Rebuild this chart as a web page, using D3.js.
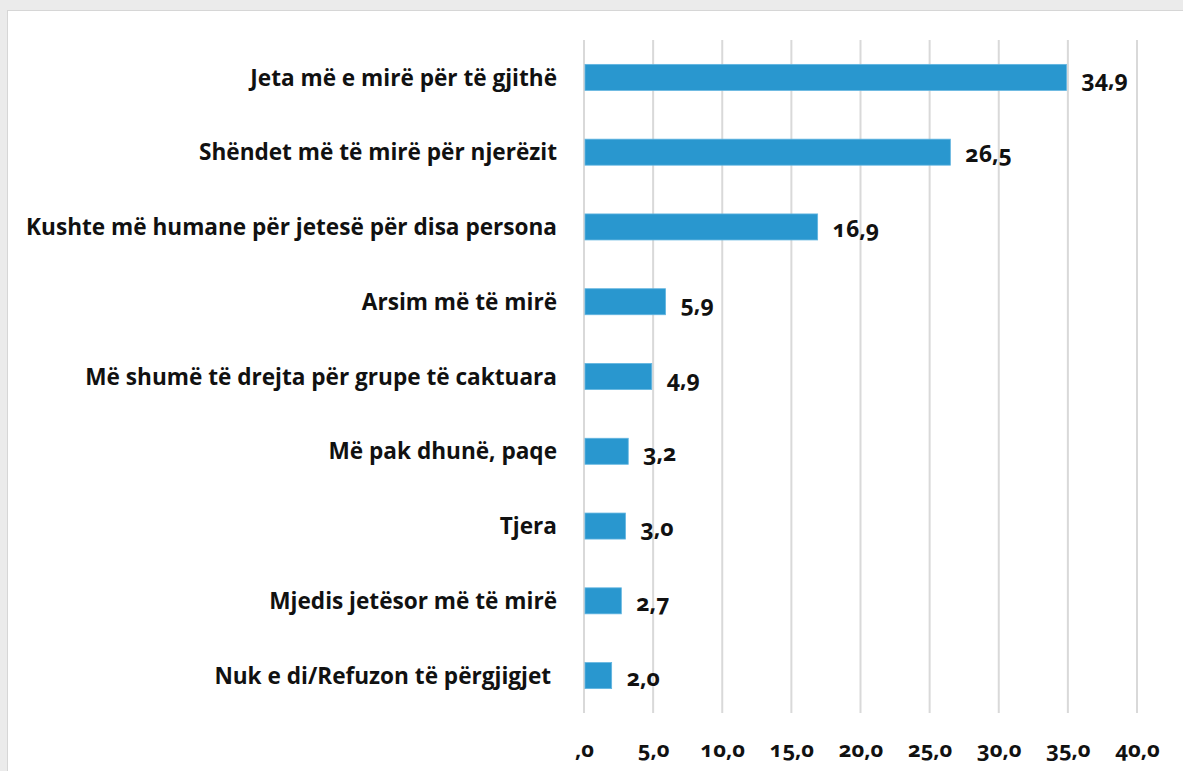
<!DOCTYPE html>
<html><head><meta charset="utf-8">
<script src="https://cdn.jsdelivr.net/npm/d3@7"></script>
<style>
html,body{margin:0;padding:0;background:#ebebeb;}
svg{display:block;}
</style></head>
<body>
<script>
const categories = [
  "Jeta më e mirë për të gjithë",
  "Shëndet më të mirë për njerëzit",
  "Kushte më humane për jetesë për disa persona",
  "Arsim më të mirë",
  "Më shumë të drejta për grupe të caktuara",
  "Më pak dhunë, paqe",
  "Tjera",
  "Mjedis jetësor më të mirë",
  "Nuk e di/Refuzon të përgjigjet "
];
const values = [34.9, 26.5, 16.9, 5.9, 4.9, 3.2, 3.0, 2.7, 2.0];
const tickValues = [0, 5, 10, 15, 20, 25, 30, 35, 40];

const W = 1183, H = 771;
const fmt = v => v === 0 ? ",0" : v.toFixed(1).replace(".", ",");
const FONT = "'Open Sans', 'DejaVu Sans', sans-serif";

const svg = d3.select("body").append("svg").attr("width", W).attr("height", H);
// panel
svg.append("rect").attr("x", 7.5).attr("y", 10.5).attr("width", W).attr("height", H)
  .attr("fill", "#fff").attr("stroke", "#d6d6d6").attr("stroke-width", 1);

const x = d3.scaleLinear().domain([0, 40]).range([584, 1137]);
const y = d3.scaleBand().domain(categories).range([40, 713]).paddingInner(0.652).paddingOuter(0.326);

// gridlines
svg.append("g").selectAll("line").data(tickValues).join("line")
  .attr("x1", d => x(d)).attr("x2", d => x(d))
  .attr("y1", 40).attr("y2", 713)
  .attr("stroke", "#d9d9d9").attr("stroke-width", 2);

// bars
svg.append("g").selectAll("rect").data(values).join("rect")
  .attr("x", x(0) + 1)
  .attr("y", (d, i) => y(categories[i]))
  .attr("width", d => x(d) - x(0) - 1)
  .attr("height", y.bandwidth())
  .attr("fill", "#2997cf")
  .attr("stroke", "#62b5e0").attr("stroke-width", 0.8);

// value labels
svg.append("g").selectAll("text").data(values).join("text")
  .attr("x", d => x(d) + 15)
  .attr("y", (d, i) => y(categories[i]) + y.bandwidth() / 2 + 10)
  .attr("font-family", FONT).attr("font-weight", 700).attr("font-size", 23)
  .style("font-variant-numeric", "oldstyle-nums")
  .attr("fill", "#111")
  .text(d => fmt(d));

// category labels
const catG = svg.append("g");
catG.selectAll("text").data(categories).join("text")
  .attr("x", 557)
  .attr("y", d => y(d) + y.bandwidth() / 2)
  .attr("dy", "0.36em")
  .attr("text-anchor", "end")
  .style("white-space", "pre")
  .attr("font-family", FONT).attr("font-weight", 700).attr("font-size", 22.6)
  .attr("fill", "#111")
  .text(d => d);

// x axis tick labels
const axis = d3.axisBottom(x).tickValues(tickValues).tickSize(0).tickFormat(fmt);
const ag = svg.append("g").attr("transform", "translate(0,738)").call(axis);
ag.select(".domain").remove();
ag.selectAll("text")
  .attr("font-family", FONT).attr("font-weight", 700).attr("font-size", 22)
  .style("font-variant-numeric", "oldstyle-nums")
  .attr("fill", "#111");
</script>
</body></html>
